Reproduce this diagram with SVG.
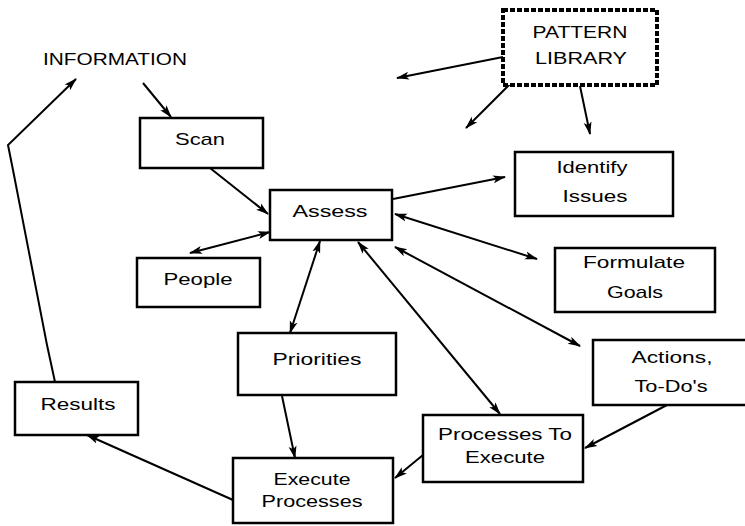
<svg xmlns="http://www.w3.org/2000/svg" width="745" height="526" viewBox="0 0 745 526">
<style>
.box{fill:#fff;stroke:#000;stroke-width:2.5}
.lib{fill:#fff;stroke:#000;stroke-width:4;stroke-dasharray:5 2}
.t{font-family:"Liberation Sans",Arial,sans-serif;font-size:17px;fill:#000;text-anchor:middle}
.c{fill:none;stroke:#000;stroke-width:2}
</style>
<defs>
<marker id="ah" markerUnits="userSpaceOnUse" markerWidth="14" markerHeight="10" refX="12" refY="4" orient="auto-start-reverse" viewBox="0 0 14 8">
<path d="M0,0 L13,4 L0,8 L3,4 Z" fill="#000"/>
</marker>
</defs>
<rect width="745" height="526" fill="#fff"/>
<g id="connectors">
<path class="c" d="M143,83 L171,117" marker-end="url(#ah)"/>
<path class="c" d="M55,382 L47,345 L13,170 L8,145 L76,79" marker-end="url(#ah)"/>
<path class="c" d="M503,57 L397,78" marker-end="url(#ah)"/>
<path class="c" d="M510,84 L466,128" marker-end="url(#ah)"/>
<path class="c" d="M580,86 L590,134" marker-end="url(#ah)"/>
<path class="c" d="M210,168 L268,214" marker-end="url(#ah)"/>
<path class="c" d="M393,199 L505,177" marker-end="url(#ah)"/>
<path class="c" d="M395,214 L537,259" marker-start="url(#ah)" marker-end="url(#ah)"/>
<path class="c" d="M395,247 L580,346" marker-start="url(#ah)" marker-end="url(#ah)"/>
<path class="c" d="M358,242 L500,414" marker-start="url(#ah)" marker-end="url(#ah)"/>
<path class="c" d="M320,241 L290,333" marker-start="url(#ah)" marker-end="url(#ah)"/>
<path class="c" d="M270,232 L190,253" marker-start="url(#ah)" marker-end="url(#ah)"/>
<path class="c" d="M282,396 L295,458" marker-end="url(#ah)"/>
<path class="c" d="M233,500 L87,435" marker-end="url(#ah)"/>
<path class="c" d="M423,455 L395,478" marker-end="url(#ah)"/>
<path class="c" d="M667,405 L585,448" marker-end="url(#ah)"/>
</g>
<g id="information">
<text class="t" x="115" y="65" font-size="19" textLength="144" lengthAdjust="spacingAndGlyphs">INFORMATION</text>
</g>
<g id="pattern-library">
<rect class="lib" x="503" y="10" width="154" height="75"/>
<text class="t" x="580" y="38" textLength="95" lengthAdjust="spacingAndGlyphs">PATTERN</text>
<text class="t" x="581" y="64" textLength="92" lengthAdjust="spacingAndGlyphs">LIBRARY</text>
</g>
<g id="scan">
<rect class="box" x="140" y="118" width="123" height="50"/>
<text class="t" x="200" y="145" textLength="50" lengthAdjust="spacingAndGlyphs">Scan</text>
</g>
<g id="identify-issues">
<rect class="box" x="515" y="152" width="158" height="64"/>
<text class="t" x="592" y="173" textLength="71" lengthAdjust="spacingAndGlyphs">Identify</text>
<text class="t" x="595" y="202" textLength="65" lengthAdjust="spacingAndGlyphs">Issues</text>
</g>
<g id="assess">
<rect class="box" x="270" y="190" width="122" height="50"/>
<text class="t" x="330" y="217" textLength="75" lengthAdjust="spacingAndGlyphs">Assess</text>
</g>
<g id="formulate-goals">
<rect class="box" x="555" y="248" width="160" height="64"/>
<text class="t" x="634" y="268" textLength="102" lengthAdjust="spacingAndGlyphs">Formulate</text>
<text class="t" x="635" y="298" textLength="56" lengthAdjust="spacingAndGlyphs">Goals</text>
</g>
<g id="people">
<rect class="box" x="137" y="258" width="123" height="49"/>
<text class="t" x="198" y="285" textLength="69" lengthAdjust="spacingAndGlyphs">People</text>
</g>
<g id="priorities">
<rect class="box" x="238" y="333" width="158" height="62"/>
<text class="t" x="317" y="365" textLength="89" lengthAdjust="spacingAndGlyphs">Priorities</text>
</g>
<g id="actions">
<rect class="box" x="593" y="340" width="155" height="65"/>
<text class="t" x="672" y="363" textLength="81" lengthAdjust="spacingAndGlyphs">Actions,</text>
<text class="t" x="671" y="392" textLength="73" lengthAdjust="spacingAndGlyphs">To-Do's</text>
</g>
<g id="results">
<rect class="box" x="15" y="382" width="123" height="53"/>
<text class="t" x="78" y="410" textLength="75" lengthAdjust="spacingAndGlyphs">Results</text>
</g>
<g id="processes-to-execute">
<rect class="box" x="423" y="415" width="160" height="67"/>
<text class="t" x="505" y="440" textLength="134" lengthAdjust="spacingAndGlyphs">Processes To</text>
<text class="t" x="505" y="463" textLength="80" lengthAdjust="spacingAndGlyphs">Execute</text>
</g>
<g id="execute-processes">
<rect class="box" x="233" y="458" width="160" height="65"/>
<text class="t" x="312" y="485" textLength="77" lengthAdjust="spacingAndGlyphs">Execute</text>
<text class="t" x="312" y="507" textLength="101" lengthAdjust="spacingAndGlyphs">Processes</text>
</g>
</svg>
